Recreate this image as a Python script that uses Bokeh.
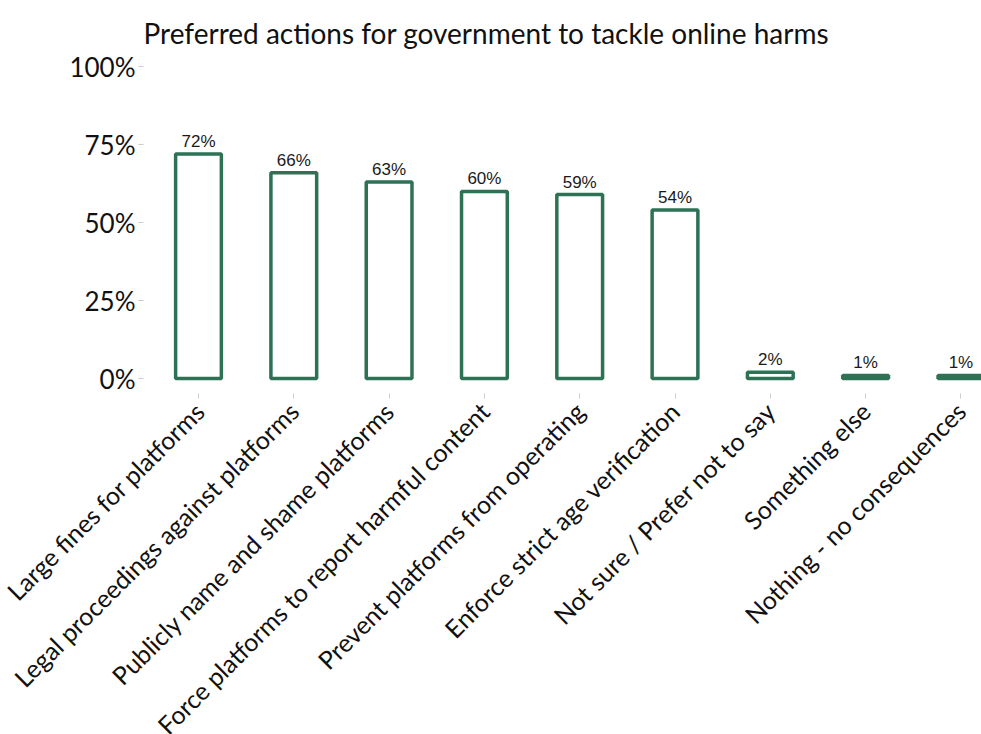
import math
from bokeh.plotting import figure
from bokeh.models import ColumnDataSource, Range1d, FixedTicker, Title
from bokeh.core.properties import value
from bokeh.embed import file_html
from bokeh.resources import INLINE

categories = [
    "Large fines for platforms",
    "Legal proceedings against platforms",
    "Publicly name and shame platforms",
    "Force platforms to report harmful content",
    "Prevent platforms from operating",
    "Enforce strict age verification",
    "Not sure / Prefer not to say",
    "Something else",
    "Nothing - no consequences",
]
values = [72, 66, 63, 60, 59, 54, 2, 1, 1]
y_ticks = [0, 25, 50, 75, 100]

GREEN = "#2d7255"

xs = list(range(len(categories)))
src = ColumnDataSource(dict(
    x=xs,
    top=values,
    label=[f"{v}%" for v in values],
))

p = figure(
    frame_width=838, frame_height=330,
    x_range=Range1d(-0.577, 8.216), y_range=Range1d(-4.8, 101.0),
    output_backend="svg", toolbar_location=None,
    min_border_left=143, min_border_right=0, min_border_top=62, min_border_bottom=300,
)
p.title = Title(text="Preferred actions for government to tackle online harms",
                align="left", text_font="Lato", text_font_size="28px",
                text_font_style="normal", text_color="#111111", offset=0,
                standoff=27)

p.vbar(x="x", top="top", bottom=0, width=0.48, source=src,
       fill_color="white", line_color=GREEN, line_width=3.5)
p.text(x="x", y="top", text="label", source=src, text_align="center",
       text_baseline="bottom", y_offset=-3, text_font=value("Liberation Sans"),
       text_font_size="17px", text_color="#1a1a1a")

p.xgrid.visible = False
p.ygrid.visible = False
p.outline_line_color = None
p.background_fill_color = "white"
p.border_fill_color = "white"

p.yaxis.ticker = FixedTicker(ticks=y_ticks)
p.yaxis.major_label_overrides = {t: f"{t}%" for t in y_ticks}
p.yaxis.axis_line_color = None
p.yaxis.major_tick_line_color = "#cccccc"
p.yaxis.major_tick_in = 0
p.yaxis.major_tick_out = 5
p.yaxis.minor_tick_line_color = None
p.yaxis.major_label_text_font = "Lato"
p.yaxis.major_label_text_font_size = "26px"
p.yaxis.major_label_text_color = "#111111"
p.yaxis.major_label_standoff = 3

p.xaxis.ticker = FixedTicker(ticks=xs)
p.xaxis.major_label_overrides = {i: c for i, c in enumerate(categories)}
p.xaxis.axis_line_color = None
p.xaxis.major_tick_line_color = "#cccccc"
p.xaxis.major_tick_in = 0
p.xaxis.major_tick_out = 5
p.xaxis.minor_tick_line_color = None
p.xaxis.major_label_orientation = math.pi / 4
p.xaxis.major_label_text_font = "Lato"
p.xaxis.major_label_text_font_size = "25px"
p.xaxis.major_label_text_color = "#111111"
p.xaxis.major_label_standoff = 8

open("out.html", "w").write(file_html(p, INLINE))
